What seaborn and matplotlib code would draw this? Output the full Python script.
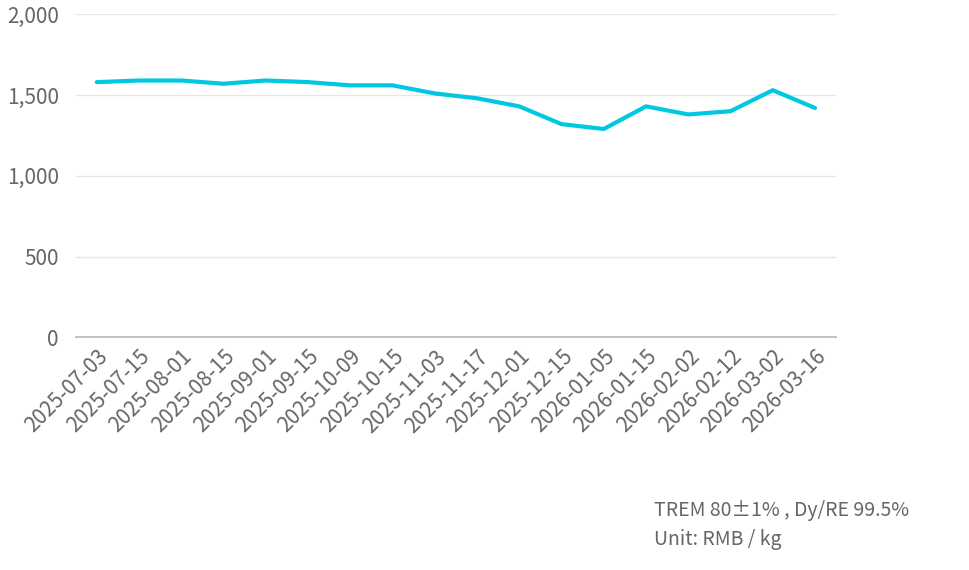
import matplotlib
matplotlib.use("Agg")
import matplotlib.pyplot as plt
import seaborn as sns
import pandas as pd

dates = ["2025-07-03", "2025-07-15", "2025-08-01", "2025-08-15", "2025-09-01", "2025-09-15",
         "2025-10-09", "2025-10-15", "2025-11-03", "2025-11-17", "2025-12-01", "2025-12-15",
         "2026-01-05", "2026-01-15", "2026-02-02", "2026-02-12", "2026-03-02", "2026-03-16"]
prices = [1580, 1590, 1590, 1570, 1590, 1580, 1560, 1560, 1510, 1480, 1430, 1320,
          1290, 1430, 1380, 1400, 1530, 1420]

sns.set_theme(style="white")
plt.rcParams['font.family'] = ['Noto Sans CJK SC', 'DejaVu Sans']

df = pd.DataFrame({"date": dates, "price": prices, "pos": range(len(dates))})

fig = plt.figure(figsize=(9.7, 5.7), dpi=100)
ax = fig.add_axes([0.078, 0.408, 0.784, 0.567])
sns.lineplot(data=df, x="pos", y="price", color="#00c8e0", linewidth=3, ax=ax)

ax.set_xlim(-0.5, len(dates) - 0.5)
ax.set_ylim(0, 2000)
ax.set_yticks([0, 500, 1000, 1500, 2000])
ax.set_yticklabels([f"{v:,}" for v in [0, 500, 1000, 1500, 2000]])
ax.set_xticks(range(len(dates)))
ax.set_xticklabels(dates, rotation=45, ha="right", rotation_mode="anchor")
ax.grid(axis="y", color="#e6e6e6", linewidth=1)
for s in ["top", "right", "left"]:
    ax.spines[s].set_visible(False)
ax.spines["bottom"].set_color("#bbbbbb")
ax.tick_params(axis="both", colors="#666666", labelsize=15, length=0)
ax.tick_params(axis="x", pad=6)
ax.tick_params(axis="y", pad=12)
ax.set_xlabel("")
ax.set_ylabel("")

fig.text(0.674, 0.035, "TREM 80±1% , Dy/RE 99.5%\nUnit: RMB / kg", color="#666666",
         fontsize=14, linespacing=1.5, va="bottom")

fig.savefig("out.png")
